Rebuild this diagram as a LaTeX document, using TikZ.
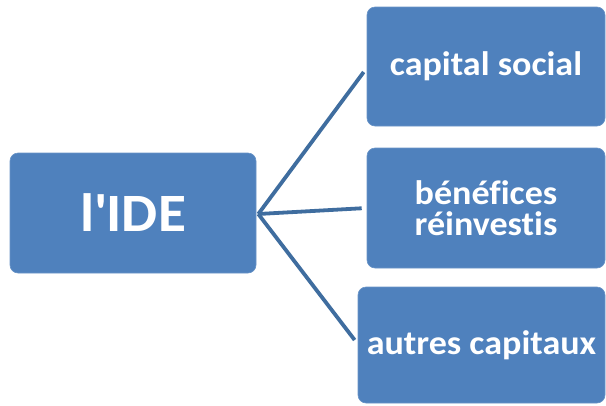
\documentclass[tikz,border=0pt]{standalone}
\usepackage{fontspec}
\setmainfont{Carlito}[FakeStretch=1.06,Ligatures=NoCommon]
\usetikzlibrary{positioning}
\definecolor{bleu}{HTML}{4F81BD}
\definecolor{bleufonce}{HTML}{3F6D9F}
\begin{document}
\begin{tikzpicture}[x=1pt,y=-1pt,
    boite/.style={draw=bleu!85!white,line width=.6pt,fill=bleu,rounded corners=8pt,
      text=white,align=center,inner sep=0pt,
      font=\bfseries\fontsize{34}{31}\selectfont},
    lien/.style={draw=bleufonce,line width=3.8pt,shorten >=5pt}]
    \useasboundingbox (0,0) rectangle (606,405);
    % boite de gauche
    \node[boite,minimum width=246pt,minimum height=120pt,
      font=\bfseries\fontsize{54}{54}\selectfont] (ide) at (133,213) {l\textquotesingle IDE};
    % les trois composantes
    \node[boite,minimum width=238pt,minimum height=119pt] (capital) at (486,66.5) {capital social};
    \node[boite,minimum width=238pt,minimum height=120pt] (benefices) at (486,208) {bénéfices\\réinvestis};
    \node[boite,minimum width=247pt,minimum height=116pt] (autres) at (481.5,345) {autres capitaux};
    \coordinate (depart) at ([xshift=2pt,yshift=-1pt]ide.east);
    \draw[lien] (depart) -- (capital.west |- 0,68);
    \draw[lien] (depart) -- (benefices.west);
    \draw[lien] (depart) -- (autres.west |- 0,344);
\end{tikzpicture}
\end{document}
